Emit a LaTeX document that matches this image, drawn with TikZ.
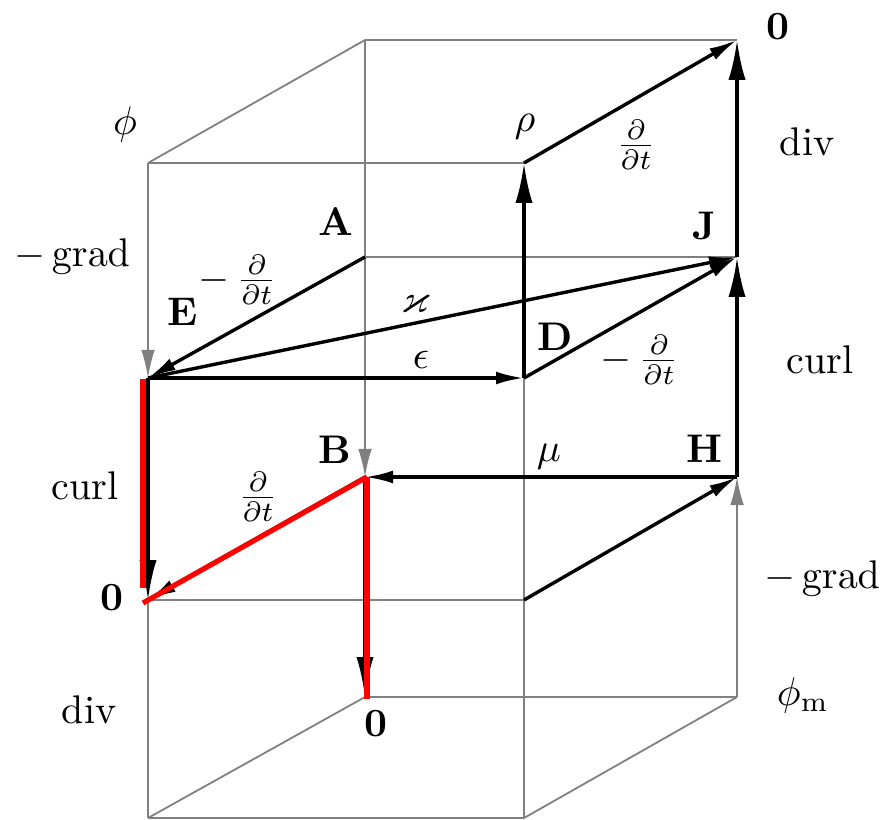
\documentclass[tikz,border=0pt]{standalone}
\usepackage{amsmath,amssymb}
\usetikzlibrary{arrows.meta}
\begin{document}
\begin{tikzpicture}[x=0.25pt,y=-0.25pt,
  grid/.style={draw=gray, line width=0.45pt},
  garrow/.style={draw=gray, line width=0.5pt, -{Latex[length=7pt,width=3.4pt]}},
  barrow/.style={draw=black, line width=0.85pt, -{Latex[length=7pt,width=3.2pt]}},
  bigarrow/.style={draw=black, line width=0.85pt, -{Latex[length=10pt,width=4.3pt]}},
  redline/.style={draw=red, line width=1.3pt},
  lab/.style={inner sep=0pt, font=\normalsize}]
\useasboundingbox (0,0) rectangle (884,820);
% corners
\coordinate (F1L) at (148,163);
\coordinate (F1R) at (524,163);
\coordinate (B1L) at (365,40);
\coordinate (B1R) at (737,40);
\coordinate (E) at (148,378);
\coordinate (D) at (524,378);
\coordinate (A) at (365,257);
\coordinate (J) at (737,257);
\coordinate (Z1) at (148,600);
\coordinate (F3R) at (524,600);
\coordinate (B) at (365,477);
\coordinate (H) at (737,477);
\coordinate (F4L) at (148,818);
\coordinate (F4R) at (524,818);
\coordinate (Z2) at (365,697);
\coordinate (Pm) at (737,697);
% red path points
\coordinate (r1) at (143,379);
\coordinate (r2) at (143,588);
\coordinate (r3) at (143,603);
\coordinate (r4) at (367,477);
\coordinate (r5) at (367,699);
% thin grid lines
\draw[grid] (F1L) -- (F1R);
\draw[grid] (Z1) -- (F3R);
\draw[grid] (F4L) -- (F4R);
\draw[grid] (B1L) -- (B1R);
\draw[grid] (A) -- (J);
\draw[grid] (Z2) -- (Pm);
\draw[grid] (Z1) -- (F4L);
\draw[grid] (D) -- (F3R);
\draw[grid] (F3R) -- (F4R);
\draw[grid] (B1L) -- (A);
\draw[grid] (F1L) -- (B1L);
\draw[grid] (F4L) -- (Z2);
\draw[grid] (F4R) -- (Pm);
% gray arrows
\draw[garrow] (F1L) -- (E);
\draw[garrow] (A) -- (B);
\draw[garrow] (Pm) -- (H);
% black arrows
\draw[barrow] (A) -- (E);
\draw[barrow] (E) -- (D);
\draw[barrow] (E) -- (J);
\draw[barrow] (D) -- (J);
\draw[barrow] (F1R) -- (B1R);
\draw[barrow] (H) -- (B);
\draw[barrow] (F3R) -- (H);
\draw[barrow] (B) -- (Z1);
\draw[bigarrow] (D) -- (F1R);
\draw[bigarrow] (J) -- (B1R);
\draw[bigarrow] (H) -- (J);
\draw[bigarrow] (E) -- (Z1);
\draw[bigarrow] (B) -- (Z2);
% red overlay
\draw[redline] (r1) -- (r2);
\draw[redline] (r3) -- (r4);
\draw[redline] (r4) -- (r5);
% labels
\node[lab] (lphi) at (125,125) {$\phi$};
\node[lab] (lgradL) at (72,257) {$-\,\mathrm{grad}$};
\node[lab] (lA) at (336,222) {\textbf{A}};
\node[lab] (ldtA) at (238,280) {$-\,\frac{\partial}{\partial t}$};
\node[lab] (lE) at (183,312) {\textbf{E}};
\node[lab] (lkappa) at (416,304) {$\varkappa$};
\node[lab] (leps) at (421,360) {$\epsilon$};
\node[lab] (lrho) at (525,127) {$\rho$};
\node[lab] (ldtrho) at (636,145) {$\frac{\partial}{\partial t}$};
\node[lab] (lzT) at (778,27) {\textbf{0}};
\node[lab] (ldivT) at (807,142) {div};
\node[lab] (lJ) at (704,226) {\textbf{J}};
\node[lab] (lD) at (555,337) {\textbf{D}};
\node[lab] (ldtD) at (640,360) {$-\,\frac{\partial}{\partial t}$};
\node[lab] (lcurlR) at (820,360) {curl};
\node[lab] (lB) at (335,450) {\textbf{B}};
\node[lab] (lmu) at (549,457) {$\mu$};
\node[lab] (lH) at (704,449) {\textbf{H}};
\node[lab] (lcurlL) at (85,486) {curl};
\node[lab] (ldtB) at (258,497) {$\frac{\partial}{\partial t}$};
\node[lab] (lzL) at (112,598) {\textbf{0}};
\node[lab] (lgradR) at (822,578) {$-\,\mathrm{grad}$};
\node[lab] (lphim) at (803,695) {$\phi_{\mathrm{m}}$};
\node[lab] (ldivL) at (89,710) {div};
\node[lab] (lzB) at (376,724) {\textbf{0}};
\end{tikzpicture}
\end{document}
